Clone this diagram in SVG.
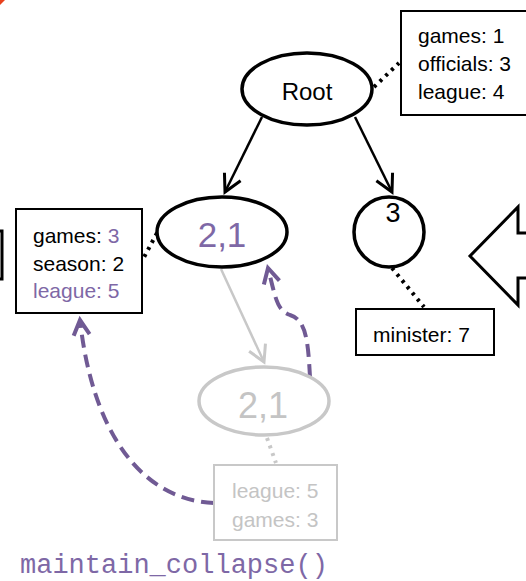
<svg xmlns="http://www.w3.org/2000/svg" width="526" height="581" viewBox="0 0 526 581">
<defs>
<style>
.t{font-family:"Liberation Sans",Arial,sans-serif;font-size:21px;fill:#000}
.pu{fill:#7E68A6}
.gr{fill:#c4c4c4}
.box{fill:#fff;stroke:#000;stroke-width:2}
.node{fill:#fff;stroke:#000;stroke-width:3.5}
.dot{fill:none;stroke:#000;stroke-width:4;stroke-dasharray:3 5}
.edge{fill:none;stroke:#000;stroke-width:2.5}
.pdash{fill:none;stroke:#705A94;stroke-width:4;stroke-dasharray:13 7}
</style>
<marker id="ab" markerUnits="userSpaceOnUse" markerWidth="30" markerHeight="30" viewBox="-20 -15 30 30" refX="0" refY="0" orient="auto">
<path d="M-17,-9 L0,0 L-17,9" fill="none" stroke="#000" stroke-width="3"/>
</marker>
<marker id="ag" markerUnits="userSpaceOnUse" markerWidth="30" markerHeight="30" viewBox="-20 -15 30 30" refX="0" refY="0" orient="auto">
<path d="M-16,-9 L0,0 L-16,9" fill="none" stroke="#c8c8c8" stroke-width="3"/>
</marker>
<marker id="ap" markerUnits="userSpaceOnUse" markerWidth="30" markerHeight="30" viewBox="-20 -15 30 30" refX="0" refY="0" orient="auto">
<path d="M-15,-8 L0,0 L-15,8" fill="none" stroke="#705A94" stroke-width="4"/>
</marker>
</defs>
<rect width="526" height="581" fill="#fff"/>
<path d="M0,0 L5,0 L0,5 Z" fill="#E8401C"/>
<rect x="-20" y="231" width="22" height="48" fill="none" stroke="#000" stroke-width="3"/>
<path d="M530,233 L518,233 L518,207 L470,256 L518,305 L518,278 L530,278" fill="#fff" stroke="#000" stroke-width="3" stroke-linejoin="miter"/>

<g id="connectors">
<line class="dot" x1="374" y1="87" x2="399" y2="63"/>
<line class="dot" x1="157" y1="233" x2="142" y2="261"/>
<line class="dot" x1="392" y1="268" x2="424" y2="307"/>
<line class="dot" x1="267" y1="438" x2="276" y2="463" style="stroke:#c8c8c8"/>
<line class="edge" x1="262" y1="117" x2="225" y2="192" marker-end="url(#ab)"/>
<line class="edge" x1="355" y1="117" x2="392" y2="192" marker-end="url(#ab)"/>
<line x1="221" y1="269" x2="264" y2="362" stroke="#c8c8c8" stroke-width="2.5" marker-end="url(#ag)"/>
<path class="pdash" d="M214,503 C140,500 92,430 80,320" marker-end="url(#ap)"/>
<path class="pdash" d="M310,377 C308,340 306,320 290,315 C277,310 276,300 268,268" marker-end="url(#ap)"/>
</g>

<g id="root">
<ellipse class="node" cx="307" cy="89" rx="65" ry="36"/>
<text class="t" x="307" y="100" text-anchor="middle" style="font-size:24px">Root</text>
</g>
<g id="root-box">
<rect class="box" x="401" y="11" width="140" height="104"/>
<text class="t" x="418" y="43">games: 1</text>
<text class="t" x="418" y="71">officials: 3</text>
<text class="t" x="418" y="99">league: 4</text>
</g>
<g id="node21">
<ellipse class="node" cx="222" cy="232" rx="65" ry="35"/>
<text class="t pu" x="222" y="247" text-anchor="middle" style="font-size:35px">2,1</text>
</g>
<g id="node21-box">
<rect class="box" x="16" y="209" width="126" height="104"/>
<text class="t" x="33" y="243">games: <tspan class="pu">3</tspan></text>
<text class="t" x="33" y="271">season: 2</text>
<text class="t pu" x="33" y="298">league: 5</text>
</g>
<g id="node3">
<circle class="node" cx="389" cy="232" r="35"/>
<text class="t" x="393" y="222" text-anchor="middle" style="font-size:27px">3</text>
</g>
<g id="node3-box">
<rect class="box" x="356" y="309" width="138" height="46"/>
<text class="t" x="373" y="342">minister: 7</text>
</g>
<g id="ghost21">
<ellipse cx="264" cy="401" rx="65" ry="34" fill="#fff" stroke="#c8c8c8" stroke-width="3.5"/>
<text class="t gr" x="263" y="418" text-anchor="middle" style="font-size:36px">2,1</text>
</g>
<g id="ghost21-box">
<rect x="214" y="465" width="123" height="75" fill="#fff" stroke="#c8c8c8" stroke-width="2"/>
<text class="t gr" x="232" y="498">league: 5</text>
<text class="t gr" x="232" y="527">games: 3</text>
</g>
<text x="20" y="573" style="font-family:'Liberation Mono','Courier New',monospace;font-size:27px" fill="#7E68A6">maintain_collapse()</text>
</svg>
